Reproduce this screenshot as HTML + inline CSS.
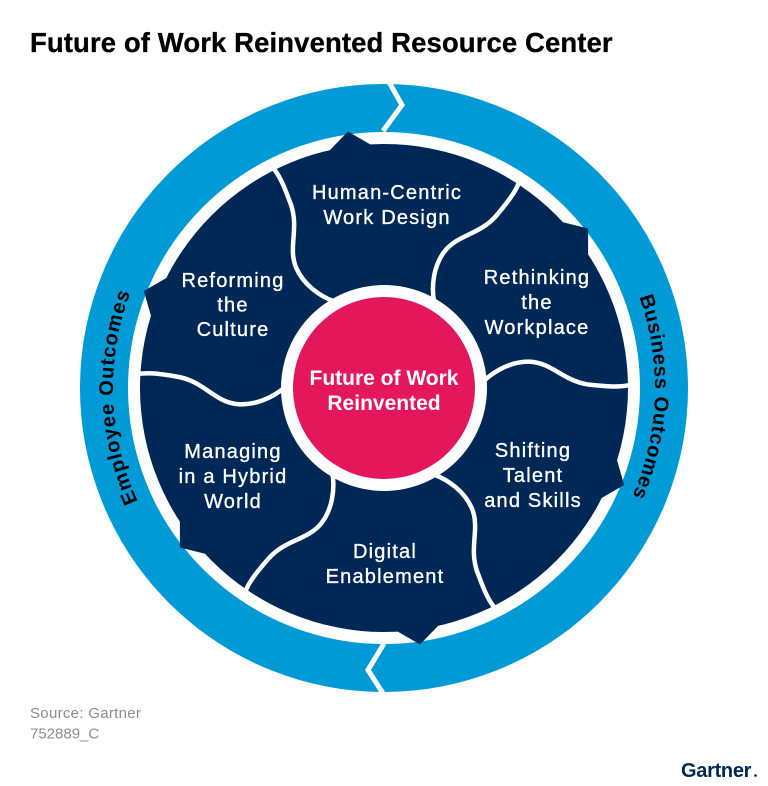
<!DOCTYPE html>
<html>
<head>
<meta charset="utf-8">
<style>
  html, body { margin: 0; padding: 0; background: #ffffff; }
  body { width: 768px; height: 786px; overflow: hidden; }
  svg { display: block; }
  .seg { font-family: "Liberation Sans", sans-serif; font-size: 20px; fill: #ffffff; stroke: #ffffff; stroke-width: 0.35px; letter-spacing: 1.2px; }
</style>
</head>
<body>
<svg width="768" height="786" viewBox="0 0 768 786" xmlns="http://www.w3.org/2000/svg">
  <rect x="0" y="0" width="768" height="786" fill="#ffffff"/>

  <!-- Title -->
  <text x="30" y="52" font-family="Liberation Sans, sans-serif" font-size="27.5" font-weight="bold" fill="#000000" stroke="#000000" stroke-width="0.3" letter-spacing="0.1">Future of Work Reinvented Resource Center</text>

  <!-- Outer blue ring -->
  <circle cx="384" cy="388" r="280" fill="none" stroke="#009ad7" stroke-width="48"/>

  <!-- Ring separators (chevrons) -->
  <polyline points="387,78.5 402,105 383,131" fill="none" stroke="#ffffff" stroke-width="5" stroke-linejoin="miter"/>
  <polyline points="384,643.5 368,670 385,696.5" fill="none" stroke="#ffffff" stroke-width="5" stroke-linejoin="miter"/>

  <!-- Navy body -->
  <circle cx="384" cy="388" r="244" fill="#002856"/>
  <g fill="#002856">
    <polygon points="259,0 240.9,-23.2 240.9,23.2" transform="translate(384 388) rotate(22)"/>
    <polygon points="259,0 240.9,-23.2 240.9,23.2" transform="translate(384 388) rotate(82)"/>
    <polygon points="259,0 240.9,-23.2 240.9,23.2" transform="translate(384 388) rotate(142)"/>
    <polygon points="259,0 240.9,-23.2 240.9,23.2" transform="translate(384 388) rotate(202)"/>
    <polygon points="259,0 240.9,-23.2 240.9,23.2" transform="translate(384 388) rotate(262)"/>
    <polygon points="259,0 240.9,-23.2 240.9,23.2" transform="translate(384 388) rotate(322)"/>
  </g>

  <!-- White S-curves dividing segments -->
  <g fill="none" stroke="#ffffff" stroke-width="4.5">
    <path d="M 100 0 C 112 -10, 130 -18, 148 -16 C 170 -13, 180 6, 205 11 C 222 14, 235 16, 246 14" transform="translate(384 388) rotate(356)"/>
    <path d="M 100 0 C 112 -10, 130 -18, 148 -16 C 170 -13, 180 6, 205 11 C 222 14, 235 16, 246 14" transform="translate(384 388) rotate(60)"/>
    <path d="M 100 0 C 112 -10, 130 -18, 148 -16 C 170 -13, 180 6, 205 11 C 222 14, 235 16, 246 14" transform="translate(384 388) rotate(121)"/>
    <path d="M 100 0 C 112 -10, 130 -18, 148 -16 C 170 -13, 180 6, 205 11 C 222 14, 235 16, 246 14" transform="translate(384 388) rotate(180)"/>
    <path d="M 100 0 C 112 -10, 130 -18, 148 -16 C 170 -13, 180 6, 205 11 C 222 14, 235 16, 246 14" transform="translate(384 388) rotate(240)"/>
    <path d="M 100 0 C 112 -10, 130 -18, 148 -16 C 170 -13, 180 6, 205 11 C 222 14, 235 16, 246 14" transform="translate(384 388) rotate(300)"/>
  </g>

  <!-- Center -->
  <circle cx="384" cy="388" r="103" fill="#ffffff"/>
  <circle cx="384" cy="388" r="91" fill="#e5175b"/>
  <text x="384" y="385" text-anchor="middle" font-family="Liberation Sans, sans-serif" font-size="21" font-weight="bold" fill="#ffffff">Future of Work</text>
  <text x="384" y="410" text-anchor="middle" font-family="Liberation Sans, sans-serif" font-size="21" font-weight="bold" fill="#ffffff">Reinvented</text>

  <!-- Segment labels -->
  <text class="seg" x="387" y="199" text-anchor="middle">Human-Centric</text>
  <text class="seg" x="387" y="224" text-anchor="middle">Work Design</text>

  <text class="seg" x="233" y="287" text-anchor="middle">Reforming</text>
  <text class="seg" x="233" y="311.5" text-anchor="middle">the</text>
  <text class="seg" x="233" y="336" text-anchor="middle">Culture</text>

  <text class="seg" x="537" y="284" text-anchor="middle">Rethinking</text>
  <text class="seg" x="537" y="309" text-anchor="middle">the</text>
  <text class="seg" x="537" y="334" text-anchor="middle">Workplace</text>

  <text class="seg" x="233" y="458" text-anchor="middle">Managing</text>
  <text class="seg" x="233" y="483" text-anchor="middle">in a Hybrid</text>
  <text class="seg" x="233" y="508" text-anchor="middle">World</text>

  <text class="seg" x="533" y="457" text-anchor="middle">Shifting</text>
  <text class="seg" x="533" y="482" text-anchor="middle">Talent</text>
  <text class="seg" x="533" y="507" text-anchor="middle">and Skills</text>

  <text class="seg" x="385" y="558" text-anchor="middle">Digital</text>
  <text class="seg" x="385" y="583" text-anchor="middle">Enablement</text>

  <!-- Curved ring labels -->
  <defs>
    <path id="leftArc" d="M 217.1 601.5 A 271 271 0 0 1 202.7 186.6"/>
    <path id="rightArc" d="M 565.3 186.6 A 271 271 0 0 1 550.9 601.5"/>
  </defs>
  <text font-family="Liberation Sans, sans-serif" font-size="20" font-weight="bold" fill="#000000" letter-spacing="1">
    <textPath href="#leftArc" startOffset="50%" text-anchor="middle">Employee Outcomes</textPath>
  </text>
  <text font-family="Liberation Sans, sans-serif" font-size="20" font-weight="bold" fill="#000000" letter-spacing="0.7">
    <textPath href="#rightArc" startOffset="50%" text-anchor="middle">Business Outcomes</textPath>
  </text>

  <!-- Footer -->
  <text x="30" y="718" font-family="Liberation Sans, sans-serif" font-size="15" fill="#8a8d90" letter-spacing="0.3">Source: Gartner</text>
  <text x="30" y="738.5" font-family="Liberation Sans, sans-serif" font-size="15" fill="#8a8d90">752889_C</text>

  <text x="681" y="777" font-family="Liberation Sans, sans-serif" font-size="20" font-weight="bold" fill="#002856" letter-spacing="-0.3">Gartner</text>
  <circle cx="755.5" cy="775.5" r="1.3" fill="#002856"/>
</svg>
</body>
</html>
